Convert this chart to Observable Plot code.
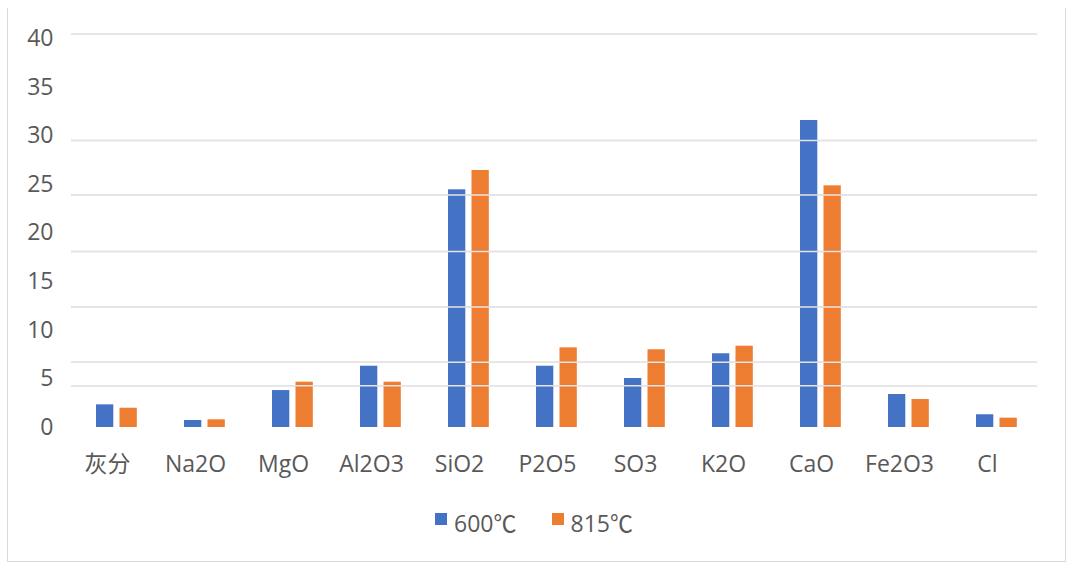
<!DOCTYPE html>
<html>
<head>
<meta charset="utf-8">
<script src="https://cdn.jsdelivr.net/npm/d3@7"></script>
<script src="https://cdn.jsdelivr.net/npm/@observablehq/plot@0.6"></script>
<style>
  html, body { margin: 0; padding: 0; background: #fff; }
  #wrap { position: relative; width: 1068px; height: 562px; overflow: hidden;
          font-family: "Open Sans", "Noto Sans CJK SC", sans-serif; background: #fff; }
  #frame { position: absolute; left: 7px; top: 8px; width: 1059px; height: 554px;
           border: 1.5px solid #d9d9d9; border-top: none; box-sizing: border-box; pointer-events: none; }
  #legend { position: absolute; left: 0; right: 0; top: 507px; display: flex; justify-content: center;
            gap: 35px; color: #595959; font-size: 23px; line-height: 32px; }
  .item { display: flex; align-items: center; gap: 7px; }
  .sw { width: 12px; height: 12px; display: inline-block; margin-top: -8px; }
  #chart { position: absolute; left: 0; top: 0; }
</style>
</head>
<body>
<div id="wrap">
  <div id="chart"></div>
  <div id="frame"></div>
  <div id="legend"></div>
</div>
<script>
const categories = ["灰分", "Na2O", "MgO", "Al2O3", "SiO2", "P2O5", "SO3", "K2O", "CaO", "Fe2O3", "Cl"];
const seriesNames = ["600℃", "815℃"];
const values600 = [2.33, 0.72, 3.80, 6.30, 24.44, 6.30, 5.04, 7.58, 31.57, 3.39, 1.31];
const values815 = [1.98, 0.79, 4.66, 4.66, 26.43, 8.19, 7.99, 8.36, 24.85, 2.88, 0.96];
const yTicks = [0, 5, 10, 15, 20, 25, 30, 35, 40];
const gridValues = [40.5, 29.5, 23.9, 18.1, 12.4, 6.7, 4.3];
const seriesColors = ["#4472C4", "#ED7D31"];

const rows = categories.map((c, i) => ({category: c, v600: values600[i], v815: values815[i]}));

const chart = Plot.plot({
  width: 1068,
  height: 562,
  marginLeft: 71,
  marginRight: 25,
  marginTop: 38,
  marginBottom: 135,
  style: {background: "transparent", fontFamily: '"Open Sans", "Noto Sans CJK SC", sans-serif', fontSize: "23px", color: "#595959"},
  x: {domain: categories, padding: 0, label: null},
  y: {domain: [0, 40], label: null},
  marks: [
    Plot.ruleY(gridValues, {stroke: "#d9d9d9", strokeWidth: 1.5, insetRight: 6}),
    Plot.barY(rows, {x: "category", y: "v600", fill: seriesColors[0], insetLeft: 23, insetRight: 47.7}),
    Plot.barY(rows, {x: "category", y: "v815", fill: seriesColors[1], insetLeft: 46.5, insetRight: 24.2}),
    Plot.ruleY(gridValues, {stroke: "#e4e4e4", strokeWidth: 1.5, insetRight: 6}),
    Plot.axisY({ticks: yTicks, tickSize: 0, tickPadding: 18, label: null, fill: "#595959"}),
    Plot.axisX({tickSize: 0, tickPadding: 28, dx: -10, label: null, fill: "#595959"})
  ]
});
document.getElementById("chart").appendChild(chart);

const legend = document.getElementById("legend");
seriesNames.forEach((name, i) => {
  const item = document.createElement("div");
  item.className = "item";
  const sw = document.createElement("span");
  sw.className = "sw";
  sw.style.background = seriesColors[i];
  const t = document.createElement("span");
  t.textContent = name;
  item.appendChild(sw);
  item.appendChild(t);
  legend.appendChild(item);
});
</script>
</body>
</html>
